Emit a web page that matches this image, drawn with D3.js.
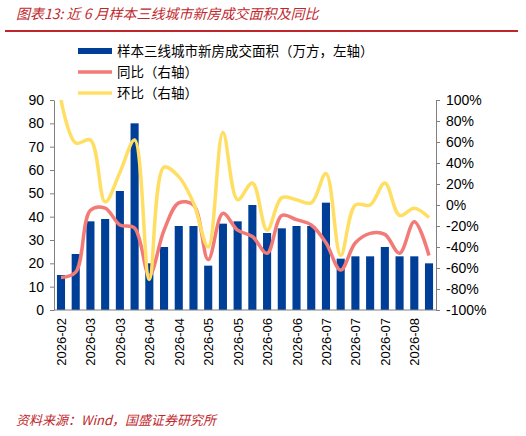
<!DOCTYPE html>
<html><head><meta charset="utf-8">
<script src="https://cdn.jsdelivr.net/npm/d3@7"></script>
<style>body{margin:0;background:#fff;font-family:"Noto Sans CJK SC","Noto Sans",sans-serif;}</style>
</head><body><div id="chart"></div>
<script>
// 数据
const labels = ["2026-02","2026-02","2026-03","2026-03","2026-03","2026-03","2026-04","2026-04","2026-04","2026-04","2026-05","2026-05","2026-05","2026-05","2026-06","2026-06","2026-06","2026-06","2026-07","2026-07","2026-07","2026-07","2026-07","2026-07","2026-08","2026-08"];
const tickLabels = ["2026-02","2026-03","2026-03","2026-04","2026-04","2026-05","2026-05","2026-06","2026-06","2026-07","2026-07","2026-07","2026-08"];
const area = [15,24,38,39,51,80,20,27,36,36,19,37,38,45,33,35,36,36,46,22,23,23,27,23,23,20];
const yoy = [-69,-64,-5,-3,-19,-22,-67,-24,2,0,-52,-8,-24,-30,-46,-10,-14,-19,-36,-62,-36,-27,-28,-46,-16,-48];
const mom = [100,59,62,3,31,62,-71,36,27,2,-40,69,5,21,-24,7,5,2,30,-48,0,0,21,-10,-3,-12];

const W = 526, H = 436;
const svg = d3.select("#chart").append("svg").attr("width", W).attr("height", H);

// 标题
svg.append("text").attr("x", 16).attr("y", 19).attr("fill", "#c0272d")
  .attr("font-size", 14).attr("font-style", "italic").text("图表13:  近 6 月样本三线城市新房成交面积及同比");
svg.append("line").attr("x1", 5).attr("x2", 518).attr("y1", 31).attr("y2", 31)
  .attr("stroke", "#c0272d").attr("stroke-width", 2);

const pLeft = 54, pRight = 436, pTop = 100, pBottom = 310;
const x = d3.scaleBand().domain(d3.range(area.length)).range([pLeft, pRight]).paddingInner(0.45).paddingOuter(0.2);
const yL = d3.scaleLinear().domain([0, 90]).range([pBottom, pTop]);
const yR = d3.scaleLinear().domain([-100, 100]).range([pBottom, pTop]);

// 柱
svg.selectAll("rect.bar").data(area).enter().append("rect")
  .attr("x", (d, i) => x(i)).attr("width", x.bandwidth())
  .attr("y", d => yL(d)).attr("height", d => pBottom - yL(d)).attr("fill", "#003f98");

// 线
function drawLine(data, color) {
  const g = d3.line().x((d, i) => x(i) + x.bandwidth() / 2).y(d => yR(d)).curve(d3.curveCatmullRom.alpha(0.5));
  svg.append("path").attr("d", g(data)).attr("fill", "none").attr("stroke", color)
    .attr("stroke-width", 3.5).attr("stroke-linejoin", "round");
}
drawLine(yoy, "#f27b77");
drawLine(mom, "#ffdf63");

// 坐标轴
const fmt = d => d + "%";
const axL = svg.append("g").attr("transform", `translate(${pLeft},0)`)
  .call(d3.axisLeft(yL).tickValues(d3.range(0, 91, 10)).tickSize(4).tickSizeOuter(0));
const axR = svg.append("g").attr("transform", `translate(${pRight},0)`)
  .call(d3.axisRight(yR).tickValues(d3.range(-100, 101, 20)).tickFormat(fmt).tickSize(4).tickSizeOuter(0));
[axL, axR].forEach(a => {
  a.selectAll("text").attr("font-size", 14).attr("fill", "#000").attr("font-family", "Liberation Sans, Arial, sans-serif");
  a.selectAll("line,path").attr("stroke", "#808080");
});
axL.selectAll("text").attr("x", -10);
axR.selectAll("text").attr("x", 10);
svg.append("line").attr("x1", pLeft).attr("x2", pRight).attr("y1", pBottom).attr("y2", pBottom).attr("stroke", "#808080");

// X轴标签
svg.selectAll("text.xl").data(tickLabels).enter().append("text")
  .attr("transform", (d, i) => `translate(${x(i * 2) + x.bandwidth() / 2 + 5},${pBottom + 8}) rotate(-90)`)
  .attr("text-anchor", "end").attr("font-size", 13).attr("font-family", "Liberation Sans, Arial, sans-serif")
  .text(d => d);

// 图例
const legend = [
  {t: "样本三线城市新房成交面积（万方，左轴）", c: "#003f98", w: 6},
  {t: "同比（右轴）", c: "#f27b77", w: 3.5},
  {t: "环比（右轴）", c: "#ffdf63", w: 3.5}
];
legend.forEach((d, i) => {
  const yy = 51 + i * 21;
  svg.append("line").attr("x1", 78).attr("x2", 112).attr("y1", yy).attr("y2", yy).attr("stroke", d.c).attr("stroke-width", d.w);
  svg.append("text").attr("x", 117).attr("y", yy + 5).attr("font-size", 13.5).text(d.t);
});

// 来源
svg.append("text").attr("x", 16).attr("y", 425).attr("font-size", 13).attr("font-style", "italic").attr("fill", "#c0272d")
  .text("资料来源：Wind，国盛证券研究所");
</script></body></html>
